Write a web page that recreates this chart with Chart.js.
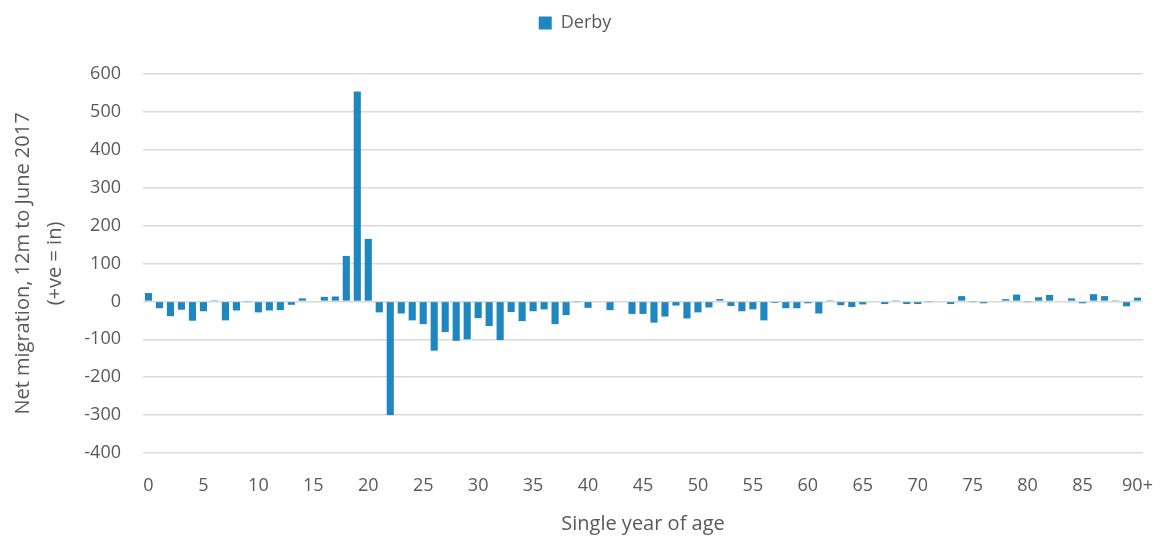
<!DOCTYPE html>
<html>
<head>
<meta charset="utf-8">
<script src="https://cdn.jsdelivr.net/npm/chart.js@4"></script>
<style>
  body { margin: 0; background: #fff; }
  #wrap { width: 1162px; height: 536px; }
</style>
</head>
<body>
<div id="wrap"><canvas id="migrationChart" width="1162" height="536"></canvas></div>
<script>
// Data
const ages = [];
for (let i = 0; i < 90; i++) ages.push(String(i));
ages.push('90+');

const derby = [
  22, -18, -39, -22, -51, -26, 1, -50, -24, -1,
  -29, -24, -23, -9, 8, 2, 12, 13, 120, 554,
  165, -29, -300, -32, -50, -60, -130, -81, -104, -100,
  -44, -65, -102, -28, -52, -26, -21, -60, -36, -1,
  -17, 0, -23, 2, -33, -33, -56, -40, -11, -45,
  -29, -16, 6, -12, -26, -21, -50, -4, -18, -18,
  -5, -32, 3, -10, -15, -8, -2, -7, 3, -7,
  -7, -1, -2, -7, 14, -1, -5, 0, 6, 18,
  -1, 11, 17, -2, 8, -5, 19, 14, 1, -13,
  10
];

const yTicks = [-400, -300, -200, -100, 0, 100, 200, 300, 400, 500, 600];

const fontFamily = "'Open Sans', sans-serif";
const textColor = '#595959';

// extra space under the legend
const legendGap = {
  id: 'legendGap',
  beforeInit(chart) {
    const origFit = chart.legend.fit;
    chart.legend.fit = function () {
      origFit.bind(chart.legend)();
      this.height += 32;
    };
  }
};

// Chart
let ctx = document.getElementById('migrationChart');
let migrationChart = new Chart(ctx, {
  type: 'bar',
  data: {
    labels: ages,
    datasets: [{
      label: 'Derby',
      data: derby,
      backgroundColor: '#1f87bf',
      categoryPercentage: 1,
      barPercentage: 0.65
    }]
  },
  options: {
    responsive: false,
    animation: false,
    layout: { padding: { left: 7, right: 19, top: 4, bottom: 0 } },
    plugins: {
      legend: {
        position: 'top',
        labels: {
          boxWidth: 13,
          boxHeight: 13,
          color: textColor,
          font: { family: fontFamily, size: 18 },
          padding: 10
        }
      },
      tooltip: { enabled: false }
    },
    scales: {
      x: {
        afterFit: scale => {
          scale.height = 83;
          scale.paddingLeft = 0;
          scale.paddingRight = 0;
        },
        grid: { display: false, drawTicks: false },
        border: { display: false },
        ticks: {
          autoSkip: false,
          maxRotation: 0,
          color: textColor,
          font: { family: fontFamily, size: 18 },
          padding: 22,
          callback: function (val, i) {
            return (i % 5 === 0 || i === 90) ? ages[i] : '';
          }
        },
        title: {
          display: true,
          text: 'Single year of age',
          color: textColor,
          font: { family: fontFamily, size: 20 },
          padding: { top: 0, bottom: 0 }
        }
      },
      y: {
        min: -400,
        max: 600,
        afterFit: scale => { scale.width = 136; },
        afterBuildTicks: axis => { axis.ticks = yTicks.map(v => ({ value: v })); },
        grid: { color: '#d9d9d9', lineWidth: 1.5, drawTicks: false },
        border: { display: false },
        ticks: {
          color: textColor,
          font: { family: fontFamily, size: 18 },
          padding: 22
        },
        title: {
          display: true,
          text: ['Net migration, 12m to June 2017', '(+ve = in)'],
          color: textColor,
          font: { family: fontFamily, size: 20, lineHeight: 1.6 },
          padding: { top: 0, bottom: 0 }
        }
      }
    }
  },
  plugins: [legendGap]
});
</script>
</body>
</html>
